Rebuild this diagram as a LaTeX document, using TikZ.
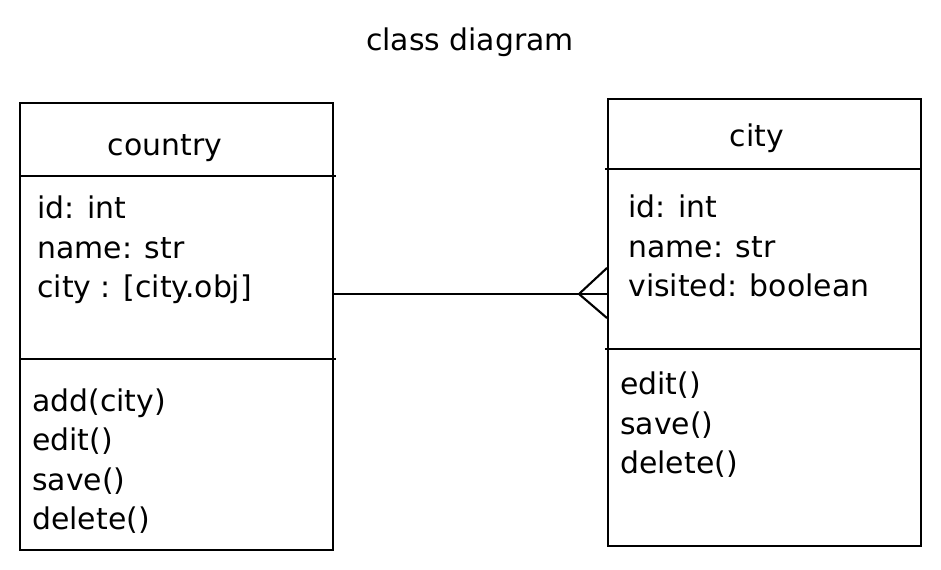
\documentclass[tikz,border=0pt]{standalone}
\usepackage{fontspec}
\setmainfont{DejaVu Sans}

\begin{document}
\begin{tikzpicture}[x=0.02cm,y=-0.02cm]

\tikzstyle{myclass}=[
  draw,
  line width=1.2pt,
  minimum width=6.26cm,
  minimum height=8.94cm]

\tikzstyle{myname}=[font=\fontsize{17}{22.5}\selectfont]

\tikzstyle{mytext}=[
  anchor=west,
  inner sep=0pt,
  align=left,
  font=\fontsize{17}{22.5}\selectfont]

\tikzstyle{myline}=[line width=1.2pt]

\useasboundingbox (0,0) rectangle (941,570);

% define points
\path
  (176.5,326.5) coordinate(P)
  (764.5,322.5) coordinate(C)
  (470,294) coordinate(L)
  ;

\node[myname] (title) at (470,42) {class diagram};

\node[myclass] (country) at (P) {};
\node[myname] (countryname) at (165,148) {country};
\node[mytext] (countryattr) at (37,250) {id: int\\name: str\\city : [city.obj]};
\node[mytext] (countryops) at (32,461) {add(city)\\edit()\\save()\\delete()};

\node[myclass] (city) at (C) {};
\node[myname] (cityname) at (757,138) {city};
\node[mytext] (cityattr) at (628,246) {id: int\\name: str\\visited: boolean};
\node[mytext] (cityops) at (620,425) {edit()\\save()\\delete()};

% draw lines
\draw[myline] (20,176) -- (336,176);
\draw[myline] (20,359) -- (336,359);
\draw[myline] (605,169) -- (921,169);
\draw[myline] (605,349) -- (921,349);

\draw[myline]
  (country.east |- L) -- (city.west |- L)
  ;
\draw[myline]
  (city.west |- L) ++(0,-26) -- ++(-28,26) -- ++(28,24)
  ;

\end{tikzpicture}
\end{document}
